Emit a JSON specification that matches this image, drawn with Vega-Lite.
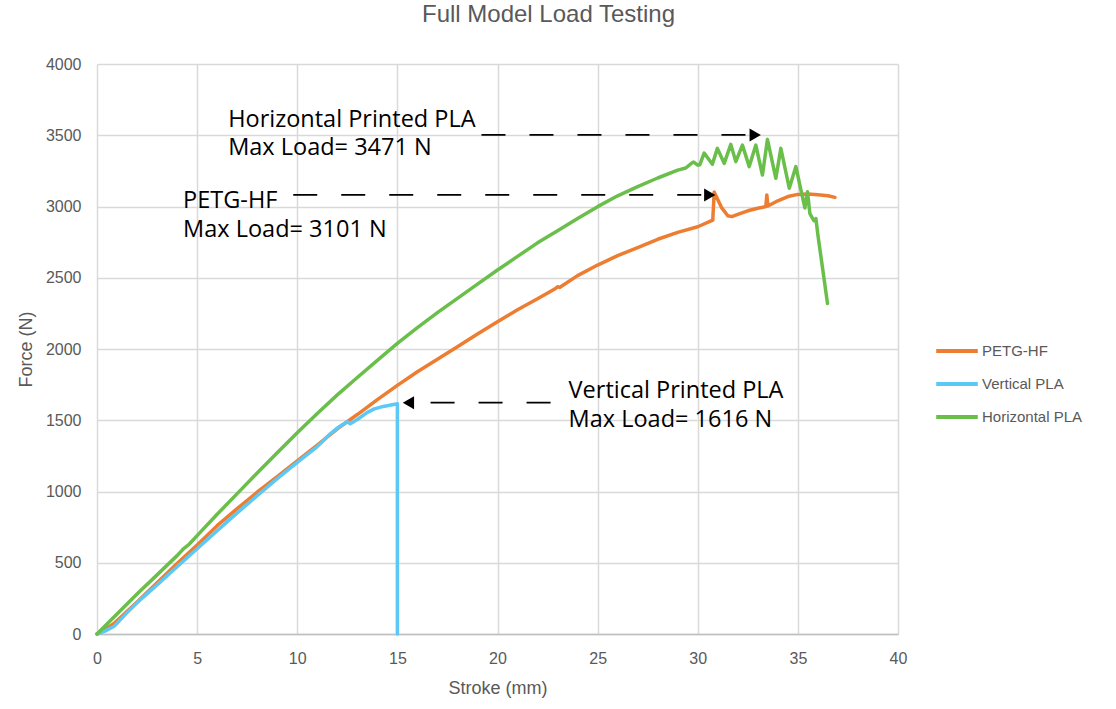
{
  "$schema": "https://vega.github.io/schema/vega-lite/v6.json",
  "width": 801,
  "height": 570,
  "autosize": {"type": "none"},
  "padding": {"left": 97, "top": 64, "right": 218, "bottom": 75},
  "background": "white",
  "title": {
    "text": "Full Model Load Testing",
    "font": "Liberation Sans",
    "fontSize": 24,
    "fontWeight": "normal",
    "color": "#595959",
    "anchor": "middle",
    "dx": 51,
    "offset": 29
  },
  "config": {
    "view": {"stroke": null},
    "axis": {
      "labelFont": "Liberation Sans",
      "labelFontSize": 16,
      "labelColor": "#595959",
      "labelFlush": false,
      "format": "d",
      "titleFont": "Liberation Sans",
      "titleFontSize": 18,
      "titleFontWeight": "normal",
      "titleColor": "#595959",
      "gridColor": "#d9d9d9",
      "gridWidth": 1.5,
      "ticks": false
    },
    "legend": {
      "orient": "none",
      "legendX": 837,
      "legendY": 264,
      "title": null,
      "symbolType": "stroke",
      "symbolSize": 1730,
      "symbolStrokeWidth": 4,
      "labelFont": "Liberation Sans",
      "labelFontSize": 15,
      "labelColor": "#595959",
      "labelOffset": 2
    }
  },
  "datasets": {
    "curves": [
      {"series": "PETG-HF", "i": 1, "s": 0, "f": 0},
      {"series": "PETG-HF", "i": 2, "s": 0.5, "f": 40},
      {"series": "PETG-HF", "i": 3, "s": 0.9, "f": 80},
      {"series": "PETG-HF", "i": 4, "s": 1.2, "f": 120},
      {"series": "PETG-HF", "i": 5, "s": 2, "f": 225},
      {"series": "PETG-HF", "i": 6, "s": 3, "f": 360},
      {"series": "PETG-HF", "i": 7, "s": 4, "f": 495},
      {"series": "PETG-HF", "i": 8, "s": 5, "f": 625},
      {"series": "PETG-HF", "i": 9, "s": 6, "f": 760},
      {"series": "PETG-HF", "i": 10, "s": 7, "f": 880},
      {"series": "PETG-HF", "i": 11, "s": 8, "f": 995},
      {"series": "PETG-HF", "i": 12, "s": 9, "f": 1105},
      {"series": "PETG-HF", "i": 13, "s": 10, "f": 1215},
      {"series": "PETG-HF", "i": 14, "s": 11, "f": 1325},
      {"series": "PETG-HF", "i": 15, "s": 12, "f": 1440},
      {"series": "PETG-HF", "i": 16, "s": 12.6, "f": 1500},
      {"series": "PETG-HF", "i": 17, "s": 13, "f": 1540},
      {"series": "PETG-HF", "i": 18, "s": 14, "f": 1645},
      {"series": "PETG-HF", "i": 19, "s": 15, "f": 1745},
      {"series": "PETG-HF", "i": 20, "s": 16, "f": 1840},
      {"series": "PETG-HF", "i": 21, "s": 17, "f": 1928},
      {"series": "PETG-HF", "i": 22, "s": 18, "f": 2015},
      {"series": "PETG-HF", "i": 23, "s": 19, "f": 2105},
      {"series": "PETG-HF", "i": 24, "s": 20, "f": 2192},
      {"series": "PETG-HF", "i": 25, "s": 21, "f": 2275},
      {"series": "PETG-HF", "i": 26, "s": 22, "f": 2352},
      {"series": "PETG-HF", "i": 27, "s": 22.9, "f": 2425},
      {"series": "PETG-HF", "i": 28, "s": 23.0, "f": 2437},
      {"series": "PETG-HF", "i": 29, "s": 23.1, "f": 2432},
      {"series": "PETG-HF", "i": 30, "s": 24, "f": 2515},
      {"series": "PETG-HF", "i": 31, "s": 25, "f": 2589},
      {"series": "PETG-HF", "i": 32, "s": 26, "f": 2655},
      {"series": "PETG-HF", "i": 33, "s": 27, "f": 2712},
      {"series": "PETG-HF", "i": 34, "s": 28, "f": 2770},
      {"series": "PETG-HF", "i": 35, "s": 29, "f": 2818},
      {"series": "PETG-HF", "i": 36, "s": 30, "f": 2858},
      {"series": "PETG-HF", "i": 37, "s": 30.75, "f": 2905},
      {"series": "PETG-HF", "i": 38, "s": 30.82, "f": 3101},
      {"series": "PETG-HF", "i": 39, "s": 31.2, "f": 2990},
      {"series": "PETG-HF", "i": 40, "s": 31.5, "f": 2935},
      {"series": "PETG-HF", "i": 41, "s": 31.7, "f": 2929},
      {"series": "PETG-HF", "i": 42, "s": 32, "f": 2945},
      {"series": "PETG-HF", "i": 43, "s": 32.5, "f": 2970},
      {"series": "PETG-HF", "i": 44, "s": 33, "f": 2988},
      {"series": "PETG-HF", "i": 45, "s": 33.4, "f": 2999},
      {"series": "PETG-HF", "i": 46, "s": 33.45, "f": 3081},
      {"series": "PETG-HF", "i": 47, "s": 33.5, "f": 3003},
      {"series": "PETG-HF", "i": 48, "s": 34, "f": 3040},
      {"series": "PETG-HF", "i": 49, "s": 34.5, "f": 3070},
      {"series": "PETG-HF", "i": 50, "s": 35, "f": 3085},
      {"series": "PETG-HF", "i": 51, "s": 35.5, "f": 3088},
      {"series": "PETG-HF", "i": 52, "s": 36, "f": 3083},
      {"series": "PETG-HF", "i": 53, "s": 36.5, "f": 3075},
      {"series": "PETG-HF", "i": 54, "s": 36.85, "f": 3064},
      {"series": "Vertical PLA", "i": 1, "s": 0, "f": 0},
      {"series": "Vertical PLA", "i": 2, "s": 0.4, "f": 20},
      {"series": "Vertical PLA", "i": 3, "s": 0.85, "f": 55},
      {"series": "Vertical PLA", "i": 4, "s": 1.1, "f": 90},
      {"series": "Vertical PLA", "i": 5, "s": 1.5, "f": 150},
      {"series": "Vertical PLA", "i": 6, "s": 2, "f": 220},
      {"series": "Vertical PLA", "i": 7, "s": 3, "f": 345},
      {"series": "Vertical PLA", "i": 8, "s": 4, "f": 472},
      {"series": "Vertical PLA", "i": 9, "s": 5, "f": 598},
      {"series": "Vertical PLA", "i": 10, "s": 6, "f": 725},
      {"series": "Vertical PLA", "i": 11, "s": 7, "f": 850},
      {"series": "Vertical PLA", "i": 12, "s": 8, "f": 970},
      {"series": "Vertical PLA", "i": 13, "s": 9, "f": 1090},
      {"series": "Vertical PLA", "i": 14, "s": 10, "f": 1205},
      {"series": "Vertical PLA", "i": 15, "s": 11, "f": 1315},
      {"series": "Vertical PLA", "i": 16, "s": 11.65, "f": 1405},
      {"series": "Vertical PLA", "i": 17, "s": 12, "f": 1445},
      {"series": "Vertical PLA", "i": 18, "s": 12.5, "f": 1490},
      {"series": "Vertical PLA", "i": 19, "s": 12.65, "f": 1476},
      {"series": "Vertical PLA", "i": 20, "s": 13, "f": 1505},
      {"series": "Vertical PLA", "i": 21, "s": 13.5, "f": 1555},
      {"series": "Vertical PLA", "i": 22, "s": 13.85, "f": 1580},
      {"series": "Vertical PLA", "i": 23, "s": 14.3, "f": 1597},
      {"series": "Vertical PLA", "i": 24, "s": 15, "f": 1616},
      {"series": "Vertical PLA", "i": 25, "s": 15, "f": 0},
      {"series": "Horizontal PLA", "i": 1, "s": 0, "f": 0},
      {"series": "Horizontal PLA", "i": 2, "s": 1, "f": 140},
      {"series": "Horizontal PLA", "i": 3, "s": 2, "f": 280},
      {"series": "Horizontal PLA", "i": 4, "s": 3, "f": 415},
      {"series": "Horizontal PLA", "i": 5, "s": 4, "f": 550},
      {"series": "Horizontal PLA", "i": 6, "s": 4.3, "f": 595},
      {"series": "Horizontal PLA", "i": 7, "s": 4.6, "f": 630},
      {"series": "Horizontal PLA", "i": 8, "s": 5, "f": 690},
      {"series": "Horizontal PLA", "i": 9, "s": 6, "f": 840},
      {"series": "Horizontal PLA", "i": 10, "s": 7, "f": 985},
      {"series": "Horizontal PLA", "i": 11, "s": 8, "f": 1130},
      {"series": "Horizontal PLA", "i": 12, "s": 9, "f": 1272},
      {"series": "Horizontal PLA", "i": 13, "s": 10, "f": 1412},
      {"series": "Horizontal PLA", "i": 14, "s": 11, "f": 1548},
      {"series": "Horizontal PLA", "i": 15, "s": 12, "f": 1678},
      {"series": "Horizontal PLA", "i": 16, "s": 13, "f": 1800},
      {"series": "Horizontal PLA", "i": 17, "s": 14, "f": 1920},
      {"series": "Horizontal PLA", "i": 18, "s": 15, "f": 2040},
      {"series": "Horizontal PLA", "i": 19, "s": 16, "f": 2150},
      {"series": "Horizontal PLA", "i": 20, "s": 17, "f": 2255},
      {"series": "Horizontal PLA", "i": 21, "s": 18, "f": 2355},
      {"series": "Horizontal PLA", "i": 22, "s": 19, "f": 2455},
      {"series": "Horizontal PLA", "i": 23, "s": 20, "f": 2554},
      {"series": "Horizontal PLA", "i": 24, "s": 21, "f": 2650},
      {"series": "Horizontal PLA", "i": 25, "s": 22, "f": 2745},
      {"series": "Horizontal PLA", "i": 26, "s": 23, "f": 2830},
      {"series": "Horizontal PLA", "i": 27, "s": 24, "f": 2915},
      {"series": "Horizontal PLA", "i": 28, "s": 25, "f": 2999},
      {"series": "Horizontal PLA", "i": 29, "s": 26, "f": 3075},
      {"series": "Horizontal PLA", "i": 30, "s": 27, "f": 3140},
      {"series": "Horizontal PLA", "i": 31, "s": 28, "f": 3200},
      {"series": "Horizontal PLA", "i": 32, "s": 29, "f": 3255},
      {"series": "Horizontal PLA", "i": 33, "s": 29.4, "f": 3270},
      {"series": "Horizontal PLA", "i": 34, "s": 29.7, "f": 3305},
      {"series": "Horizontal PLA", "i": 35, "s": 29.8, "f": 3312},
      {"series": "Horizontal PLA", "i": 36, "s": 30.0, "f": 3290},
      {"series": "Horizontal PLA", "i": 37, "s": 30.1, "f": 3292},
      {"series": "Horizontal PLA", "i": 38, "s": 30.32, "f": 3375},
      {"series": "Horizontal PLA", "i": 39, "s": 30.73, "f": 3296},
      {"series": "Horizontal PLA", "i": 40, "s": 30.98, "f": 3408},
      {"series": "Horizontal PLA", "i": 41, "s": 31.32, "f": 3303},
      {"series": "Horizontal PLA", "i": 42, "s": 31.65, "f": 3436},
      {"series": "Horizontal PLA", "i": 43, "s": 31.9, "f": 3315},
      {"series": "Horizontal PLA", "i": 44, "s": 32.23, "f": 3431},
      {"series": "Horizontal PLA", "i": 45, "s": 32.57, "f": 3280},
      {"series": "Horizontal PLA", "i": 46, "s": 32.9, "f": 3431},
      {"series": "Horizontal PLA", "i": 47, "s": 33.23, "f": 3221},
      {"series": "Horizontal PLA", "i": 48, "s": 33.48, "f": 3471},
      {"series": "Horizontal PLA", "i": 49, "s": 33.9, "f": 3198},
      {"series": "Horizontal PLA", "i": 50, "s": 34.15, "f": 3408},
      {"series": "Horizontal PLA", "i": 51, "s": 34.57, "f": 3128},
      {"series": "Horizontal PLA", "i": 52, "s": 34.9, "f": 3280},
      {"series": "Horizontal PLA", "i": 53, "s": 35.1, "f": 3150},
      {"series": "Horizontal PLA", "i": 54, "s": 35.35, "f": 2990},
      {"series": "Horizontal PLA", "i": 55, "s": 35.48, "f": 3104},
      {"series": "Horizontal PLA", "i": 56, "s": 35.6, "f": 2950},
      {"series": "Horizontal PLA", "i": 57, "s": 35.8, "f": 2900},
      {"series": "Horizontal PLA", "i": 58, "s": 35.9, "f": 2915},
      {"series": "Horizontal PLA", "i": 59, "s": 36.0, "f": 2800},
      {"series": "Horizontal PLA", "i": 60, "s": 36.2, "f": 2600},
      {"series": "Horizontal PLA", "i": 61, "s": 36.48, "f": 2320}
    ],
    "arrows": [
      {"s": 19.2, "s2": 32.45, "f": 3502},
      {"s": 9.8, "s2": 30.2, "f": 3081},
      {"s": 22.65, "s2": 15.95, "f": 1623}
    ],
    "heads": [
      {"s": 32.87, "f": 3502, "dir": "triangle-right"},
      {"s": 30.6, "f": 3081, "dir": "triangle-right"},
      {"s": 15.55, "f": 1623, "dir": "triangle-left"}
    ],
    "notes": [
      {"s": 6.55, "f": 3560, "t": "Horizontal Printed PLA"},
      {"s": 6.55, "f": 3361, "t": "Max Load= 3471 N"},
      {"s": 4.3, "f": 2987, "t": "PETG-HF"},
      {"s": 4.3, "f": 2788, "t": "Max Load= 3101 N"},
      {"s": 23.55, "f": 1654, "t": "Vertical Printed PLA"},
      {"s": 23.55, "f": 1455, "t": "Max Load= 1616 N"}
    ]
  },
  "layer": [
    {
      "data": {"name": "curves"},
      "mark": {"type": "line", "strokeWidth": 3.5, "strokeCap": "round", "strokeJoin": "round"},
      "encoding": {
        "x": {
          "field": "s",
          "type": "quantitative",
          "scale": {"domain": [0, 40], "nice": false},
          "axis": {
            "values": [0, 5, 10, 15, 20, 25, 30, 35, 40],
            "title": "Stroke (mm)",
            "labelPadding": 16,
            "titlePadding": 13,
            "domainColor": "#bfbfbf",
            "domainWidth": 1.5
          }
        },
        "y": {
          "field": "f",
          "type": "quantitative",
          "scale": {"domain": [0, 4000], "nice": false},
          "axis": {
            "values": [0, 500, 1000, 1500, 2000, 2500, 3000, 3500, 4000],
            "title": "Force (N)",
            "labelPadding": 16,
            "titlePadding": 10,
            "domain": false
          }
        },
        "color": {
          "field": "series",
          "type": "nominal",
          "scale": {
            "domain": ["PETG-HF", "Vertical PLA", "Horizontal PLA"],
            "range": ["#ED7D31", "#5CC8F5", "#6ABF4B"]
          }
        },
        "order": {"field": "i", "type": "quantitative"}
      }
    },
    {
      "data": {"name": "arrows"},
      "mark": {"type": "rule", "color": "black", "strokeWidth": 1.8, "strokeDash": [24, 24]},
      "encoding": {
        "x": {"field": "s", "type": "quantitative"},
        "x2": {"field": "s2"},
        "y": {"field": "f", "type": "quantitative"}
      }
    },
    {
      "data": {"name": "heads"},
      "mark": {"type": "point", "filled": true, "color": "black", "size": 170, "opacity": 1},
      "encoding": {
        "x": {"field": "s", "type": "quantitative"},
        "y": {"field": "f", "type": "quantitative"},
        "shape": {"field": "dir", "type": "nominal", "scale": null}
      }
    },
    {
      "data": {"name": "notes"},
      "mark": {"type": "text", "align": "left", "baseline": "alphabetic", "font": "Open Sans", "fontSize": 23.5, "color": "black"},
      "encoding": {
        "x": {"field": "s", "type": "quantitative"},
        "y": {"field": "f", "type": "quantitative"},
        "text": {"field": "t"}
      }
    }
  ]
}
